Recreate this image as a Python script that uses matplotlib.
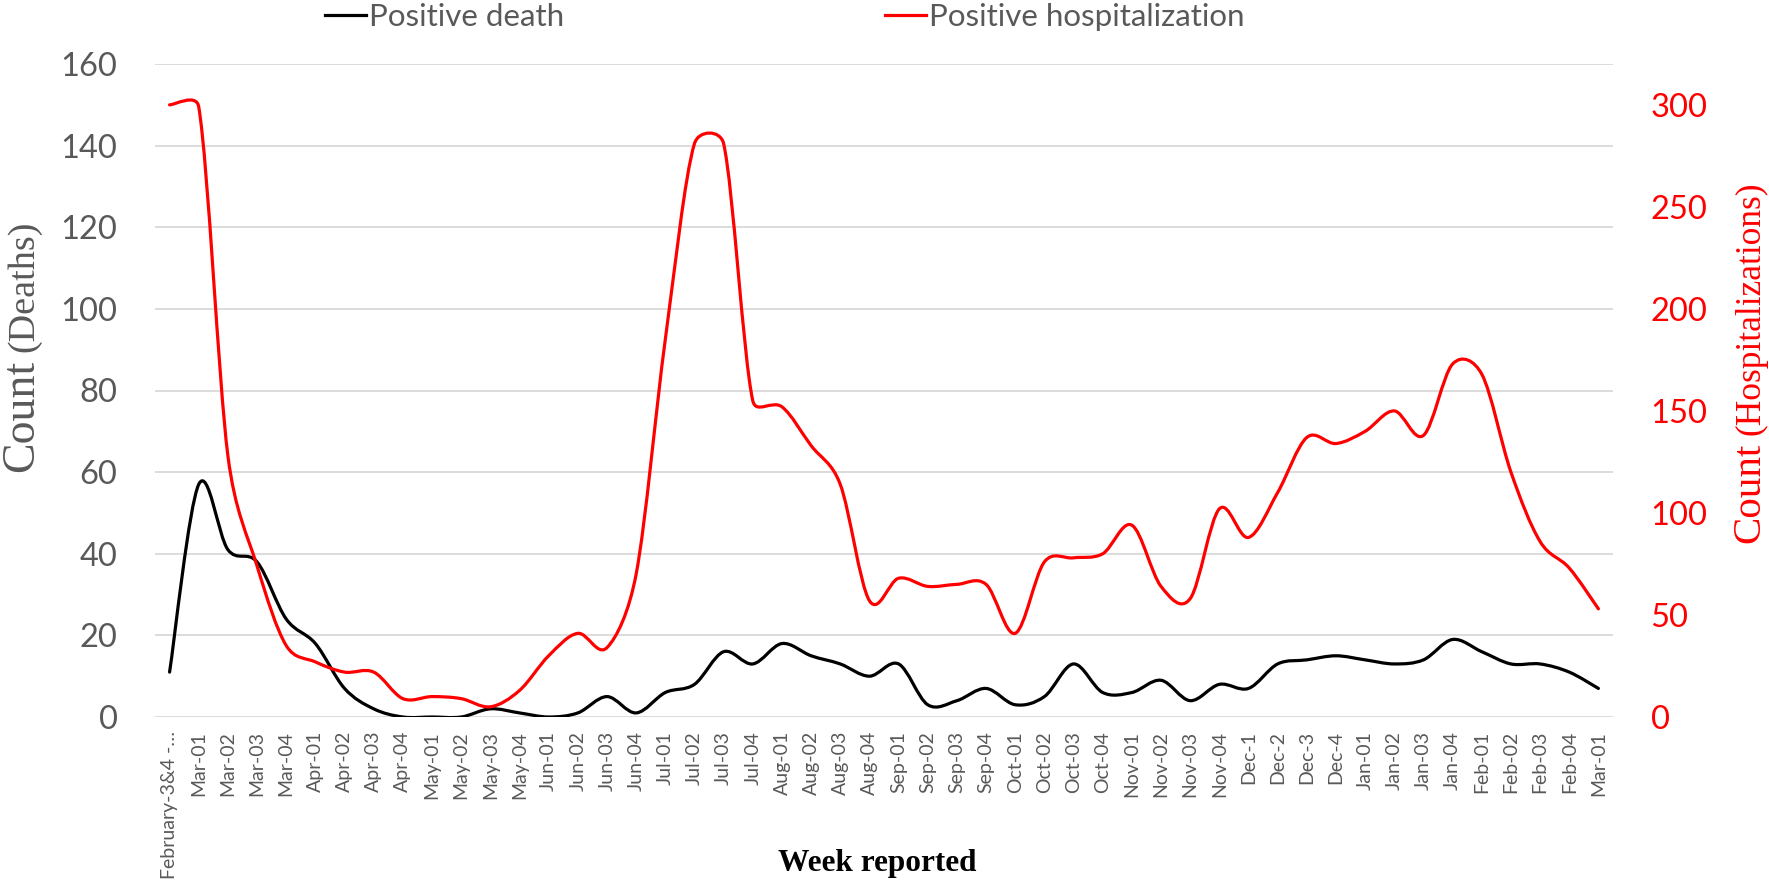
import matplotlib
matplotlib.use("Agg")
import matplotlib.pyplot as plt
from matplotlib.path import Path
from matplotlib.patches import PathPatch
from matplotlib.lines import Line2D
import numpy as np

weeks = ["February-3&4 -…", "Mar-01", "Mar-02", "Mar-03", "Mar-04", "Apr-01", "Apr-02", "Apr-03", "Apr-04",
         "May-01", "May-02", "May-03", "May-04", "Jun-01", "Jun-02", "Jun-03", "Jun-04",
         "Jul-01", "Jul-02", "Jul-03", "Jul-04", "Aug-01", "Aug-02", "Aug-03", "Aug-04",
         "Sep-01", "Sep-02", "Sep-03", "Sep-04", "Oct-01", "Oct-02", "Oct-03", "Oct-04",
         "Nov-01", "Nov-02", "Nov-03", "Nov-04", "Dec-1", "Dec-2", "Dec-3", "Dec-4",
         "Jan-01", "Jan-02", "Jan-03", "Jan-04", "Feb-01", "Feb-02", "Feb-03", "Feb-04", "Mar-01"]

deaths = [11, 57, 41, 38, 24, 18, 7, 2, 0, 0, 0, 2, 1, 0, 1, 5, 1,
          6, 8, 16, 13, 18, 15, 13, 10, 13, 3, 4, 7, 3, 5, 13, 6,
          6, 9, 4, 8, 7, 13, 14, 15, 14, 13, 14, 19, 16, 13, 13, 11, 7]

hospitalizations = [300, 299, 128, 74, 35, 27, 22, 22, 9, 10, 9, 5, 13, 30, 41, 34, 70,
                    185, 281, 281, 155, 152, 133, 114, 57, 68, 64, 65, 65, 41, 76, 78, 80,
                    94, 64, 58, 102, 88, 110, 137, 134, 140, 150, 138, 173, 168, 120, 86, 73, 53]

GREY = "#595959"
RED = "#FF0000"
W, H = 1769, 882


def excel_smooth_path(axis, values):
    """Excel-style smoothed line: cubic Bezier through the points, control arms
    limited to half the segment length (computed in display space)."""
    data = np.column_stack([np.arange(len(values), dtype=float), np.asarray(values, float)])
    tr = axis.transData
    pts = tr.transform(data)
    n = len(pts)
    verts = [pts[0]]
    codes = [Path.MOVETO]
    f = 1.0 / 6.0
    for k in range(n - 1):
        p0 = pts[k - 1] if k > 0 else pts[k]
        p1 = pts[k]
        p2 = pts[k + 1]
        p3 = pts[k + 2] if k + 2 < n else pts[k + 1]
        d12 = np.hypot(*(p2 - p1))
        d02 = np.hypot(*(p2 - p0))
        d13 = np.hypot(*(p3 - p1))
        f1 = f if d02 * f < d12 / 2 else (d12 / (2 * d02) if d02 > 0 else 0)
        f2 = f if d13 * f < d12 / 2 else (d12 / (2 * d13) if d13 > 0 else 0)
        c1 = p1 + (p2 - p0) * f1
        c2 = p2 - (p3 - p1) * f2
        verts += [c1, c2, p2]
        codes += [Path.CURVE4] * 3
    verts = tr.inverted().transform(np.array(verts))
    return Path(verts, codes)


fig = plt.figure(figsize=(W / 100, H / 100), dpi=100)
ax = fig.add_axes([155 / W, 1 - 717 / H, (1613 - 155) / W, (717 - 64) / H])
ax2 = ax.twinx()

x = np.arange(len(weeks))
ax.set_xlim(-0.5, len(weeks) - 0.5)
ax.set_ylim(0, 160)
ax2.set_ylim(0, 320)
ax.set_yticks(np.arange(0, 161, 20))
ax2.set_yticks(np.arange(0, 301, 50))
ax.set_xticks(x)
ax.set_xticklabels(weeks, rotation=90, fontsize=14, color=GREY, family="Lato")

ax.add_patch(PathPatch(excel_smooth_path(ax, deaths), fill=False, edgecolor="black", lw=2.3,
                       capstyle="round", joinstyle="round"))
ax2.add_patch(PathPatch(excel_smooth_path(ax2, hospitalizations), fill=False, edgecolor=RED, lw=2.3,
                        capstyle="round", joinstyle="round"))

ax.grid(axis="y", color="#D9D9D9", lw=1.3)
ax.set_axisbelow(True)
for a in (ax, ax2):
    for s in a.spines.values():
        s.set_visible(False)
    a.tick_params(length=0)

ax.tick_params(axis="y", labelsize=23.5, labelcolor=GREY, pad=27)
ax.tick_params(axis="x", pad=10)
ax2.tick_params(axis="y", labelsize=23.5, labelcolor=RED, pad=27)
for lab in ax.get_yticklabels() + ax2.get_yticklabels():
    lab.set_family("Lato")

# legend
h1 = Line2D([], [], color="black", lw=2.3)
h2 = Line2D([], [], color=RED, lw=2.3)
leg_kw = dict(frameon=False, loc="center left", borderpad=0, borderaxespad=0,
              handlelength=1.3, handletextpad=0.12, prop={"family": "Lato", "size": 22.5})
l1 = fig.legend([h1], ["Positive death"], bbox_to_anchor=(325 / W, 1 - 17 / H), **leg_kw)
l2 = fig.legend([h2], ["Positive hospitalization"], bbox_to_anchor=(885 / W, 1 - 17 / H), **leg_kw)
for l in (l1, l2):
    for t in l.get_texts():
        t.set_color(GREY)

# axis titles (two sizes, as in the reference)
fig.canvas.draw()
r = fig.canvas.get_renderer()


def two_part_label(x_px, y_px, big, small, s_big, s_small, color):
    t1 = fig.text(x_px / W, y_px / H, big, rotation=90, rotation_mode="anchor", ha="left",
                  va="baseline", family="Liberation Serif", fontsize=s_big, color=color)
    bb = t1.get_window_extent(r)
    fig.text(x_px / W, (bb.y1 + 8) / H, small, rotation=90, rotation_mode="anchor", ha="left",
             va="baseline", family="Liberation Serif", fontsize=s_small, color=color)


two_part_label(33, H - 472, "Count", "(Deaths)", 33, 27.5, GREY)
two_part_label(1759, H - 543, "Count", "(Hospitalizations)", 29.5, 25.5, RED)

fig.text(877 / W, 1 - 863 / H, "Week reported", ha="center", va="center",
         family="Liberation Serif", fontweight="bold", fontsize=22.5, color="black")

fig.savefig("out.png", dpi=100)
